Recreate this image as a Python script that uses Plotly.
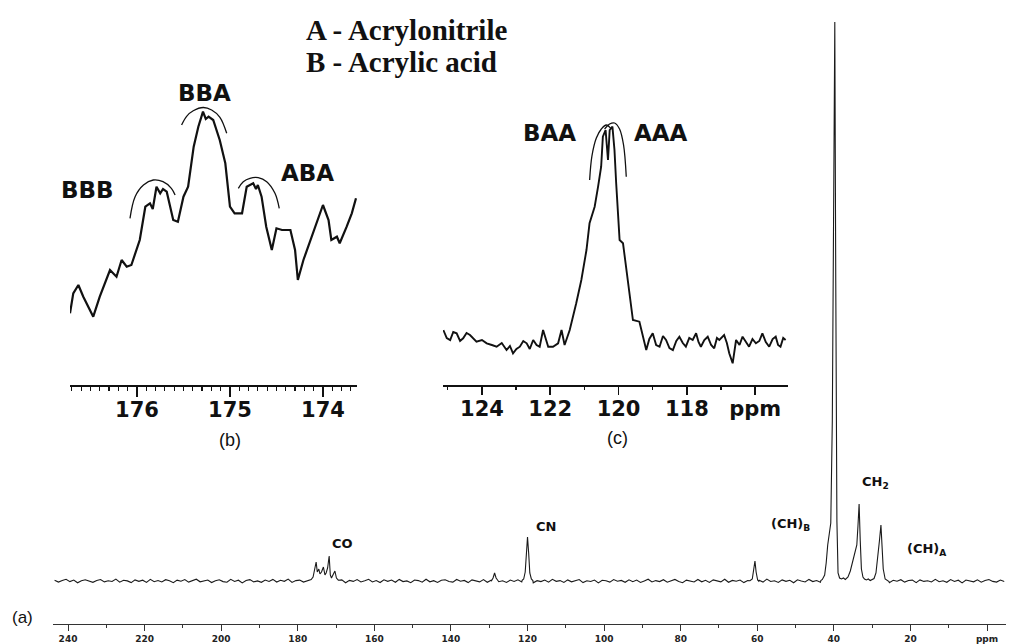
import numpy as np
import plotly.graph_objects as go

W, H = 1013, 644

# ---------------- (a) full 13C spectrum, intensity in a.u. ----------------
# baseline noise on a 1 ppm grid starting at 243.5 ppm
baseline_noise = [
    0.8, -1.1, 0.4, 1.7, -0.6, 0.9, -1.8, 0.3, 1.2, -0.4,
    -1.3, 0.6, 1.5, -0.9, 0.2, -0.5, 1.9, -1.2, 0.7, 0.1,
    -1.6, 1.1, -0.3, 0.8, -1.4, 1.6, -0.7, 0.5, -1.0, 1.3,
    0.2, -1.7, 0.9, -0.2, 1.4, -1.1, 0.6, 1.8, -0.8, -0.1,
    1.0, -1.5, 0.3, 1.2, -0.6, -1.2, 1.7, -0.4, 0.8, -1.9,
    0.5, 1.4, -0.9, 0.1, -1.3, 1.0, -0.5, 1.6, -1.0, 0.7,
    -0.3, 1.9, -1.4, 0.4, 0.9, -1.1, 0.2, -1.6, 1.3, -0.2,
    0.8, -0.7, 1.5, -1.2, 0.3, 1.1, -1.8, 0.6, -0.4, 1.4,
    -1.0, 0.2, 1.7, -0.9, 0.5, -1.5, 1.2, -0.3, 0.9, -1.3,
    1.6, -0.6, 0.1, -1.7, 1.0, 0.4, -1.2, 1.8, -0.8, 0.3,
    -1.4, 0.7, 1.3, -0.5, -1.1, 1.5, -0.2, 0.6, -1.6, 1.1,
    0.0, -0.9, 1.4, -1.3, 0.8, 1.9, -0.7, 0.2, -1.5, 0.9,
    -0.4, 1.2, -1.0, 0.5, 1.6, -1.8, 0.3, -0.6, 1.0, -1.2,
    1.7, -0.3, 0.4, -1.4, 1.1, -0.8, 0.7, 1.5, -1.6, 0.2,
    -0.5, 1.0, -1.9, 0.8, 0.3, -1.1, 1.4, -0.2, 0.6, -1.3,
    1.2, -0.7, 0.9, -1.5, 0.1, 1.8, -1.0, 0.4, -0.6, 1.3,
    -1.2, 0.5, 1.6, -0.4, -1.7, 0.9, 0.2, -1.0, 1.5, -0.8,
    0.7, -1.4, 1.1, 0.3, -0.9, 1.7, -1.3, 0.6, -0.2, 1.0,
    -1.6, 0.4, 1.3, -0.7, 0.8, -1.1, 1.9, -0.5, 0.2, -1.4,
    1.1, -0.3, 0.7, -1.8, 1.2, 0.0, -1.0, 1.6, -0.6, 0.5,
    -1.3, 0.9, 1.4, -0.8, 0.3, -1.5, 1.0, -0.1, 0.8, -1.2,
    1.5, -0.9, 0.4, 1.8, -1.4, 0.6, -0.3, 1.2, -1.7, 0.7,
    -0.2, 1.3, -1.1, 0.5, 0.9, -1.6, 1.1, -0.4, 0.3, -1.0,
    1.7, -0.7, 0.2, -1.3, 1.4, -0.5, 0.8, -1.9, 1.0, 0.1,
    -0.8, 1.2, -1.2, 0.6, 1.5, -0.4, -1.1, 0.9, -0.6,
]
baseline_start_ppm = 243.5

# resonances of the full spectrum (ppm, intensity)
co_ppm = [177.0, 176.5, 176.0, 175.6, 175.2, 174.9, 174.5, 174.2, 173.8, 173.3,
          172.9, 172.6, 172.2, 171.8, 171.5, 171.2, 170.8, 170.3, 169.9, 169.4]
co_int = [0.5, 1.5, 4.0, 12.0, 19.0, 9.0, 12.0, 7.0, 9.0, 14.0,
          6.0, 8.0, 13.0, 25.0, 6.0, 3.0, 6.0, 10.0, 3.0, 0.8]

minor_ppm = [129.4, 129.0, 128.6, 128.2, 127.8]
minor_int = [0.3, 3.0, 8.0, 3.0, 0.5]

cn_ppm = [121.4, 121.0, 120.6, 120.3, 120.0, 119.7, 119.4, 119.0, 118.6]
cn_int = [0.6, 2.0, 9.0, 30.0, 44.0, 28.0, 8.0, 2.0, 0.4]

c61_ppm = [61.9, 61.3, 60.9, 60.6, 60.3, 59.9, 59.6]
c61_int = [0.2, 2.0, 12.0, 20.0, 9.0, 1.0, -0.3]

aliph_ppm = [43.4, 43.0, 42.4, 42.0, 41.6, 41.2, 40.8, 40.4, 40.0, 39.75,
             39.5, 39.2, 38.9, 38.5, 38.0, 37.5, 37.0, 36.3, 35.7, 35.0,
             34.4, 34.0, 33.7, 33.4, 33.1, 32.8, 32.4, 32.0, 31.5, 31.0,
             30.5, 30.0, 29.5, 29.0, 28.5, 28.1, 27.7, 27.4, 27.1, 26.6,
             26.1, 25.6]
aliph_int = [0.4, 1.5, 6.0, 18.0, 36.0, 47.0, 58.0, 160.0, 430.0, 559.0,
             300.0, 60.0, 8.0, 3.0, 2.0, 3.0, 1.5, 4.0, 10.0, 20.0,
             30.0, 36.0, 55.0, 77.0, 40.0, 12.0, 4.0, 2.0, 1.0, 2.0,
             0.5, 1.5, 2.5, 8.0, 24.0, 40.0, 56.0, 25.0, 12.0, 2.0,
             0.8, -0.5]

# ---------------- (b) carbonyl region, expanded ----------------
inset_b_ppm = [176.72, 176.685, 176.63, 176.577, 176.47, 176.40, 176.29, 176.22,
               176.165, 176.11, 176.06, 175.97, 175.91, 175.86, 175.83, 175.79,
               175.75, 175.72, 175.68, 175.61, 175.56, 175.50, 175.45, 175.39,
               175.34, 175.29, 175.26, 175.23, 175.18, 175.11, 175.05, 175.00,
               174.95, 174.87, 174.82, 174.75, 174.72, 174.70, 174.66, 174.61,
               174.55, 174.50, 174.44, 174.35, 174.30, 174.27, 174.21, 174.10,
               174.05, 174.00, 173.94, 173.91, 173.85, 173.82, 173.745, 173.69,
               173.645]
inset_b_int = [71.7, 91.7, 100.0, 88.3, 68.3, 88.3, 115.0, 108.3,
               125.0, 118.3, 120.0, 145.0, 178.3, 181.7, 176.0, 198.3,
               191.7, 196.0, 193.3, 165.0, 163.3, 188.3, 198.3, 238.3,
               258.3, 273.3, 266.0, 268.3, 265.0, 245.0, 221.7, 178.3,
               171.7, 171.7, 198.3, 201.7, 196.0, 200.0, 188.3, 158.3,
               135.0, 156.7, 155.0, 155.0, 135.0, 105.0, 125.0, 155.0,
               168.3, 180.0, 165.0, 145.0, 148.3, 141.7, 158.3, 171.7,
               186.7]

# triad brackets drawn over the expanded carbonyl peaks
bbb_arc_ppm = [176.075, 176.02, 175.93, 175.825, 175.72, 175.63, 175.59]
bbb_arc_int = [166.7, 188.3, 200.0, 205.0, 203.3, 196.7, 190.0]
bba_arc_ppm = [175.52, 175.466, 175.395, 175.287, 175.197, 175.108, 175.035]
bba_arc_int = [260.0, 268.7, 274.2, 277.5, 275.0, 267.7, 251.7]
aba_arc_ppm = [174.91, 174.857, 174.785, 174.696, 174.605, 174.516, 174.47]
aba_arc_int = [196.7, 203.3, 206.7, 207.3, 203.3, 191.7, 176.7]

# ---------------- (c) nitrile region, expanded ----------------
inset_c_ppm = [125.13, 125.03, 124.93, 124.84, 124.74, 124.64, 124.55, 124.45,
               124.35, 124.25, 124.16, 124.0, 123.86, 123.71, 123.57, 123.42,
               123.28, 123.18, 123.09, 122.99, 122.89, 122.79, 122.69, 122.60,
               122.50, 122.40, 122.31, 122.21, 122.06, 121.92, 121.77, 121.67,
               121.58, 121.43, 121.33, 121.24, 121.09, 120.94, 120.85, 120.70,
               120.60, 120.51, 120.46, 120.38, 120.31, 120.26, 120.18, 120.12,
               120.07, 119.97, 119.87, 119.78, 119.68, 119.58, 119.39, 119.29,
               119.19, 119.10, 119.00, 118.90, 118.80, 118.70, 118.61, 118.51,
               118.41, 118.31, 118.22, 118.12, 118.03, 117.93, 117.83, 117.73,
               117.66, 117.59, 117.49, 117.39, 117.29, 117.20, 117.12, 117.05,
               116.91, 116.83, 116.76, 116.66, 116.56, 116.46, 116.37, 116.27,
               116.18, 116.08, 115.98, 115.88, 115.79, 115.69, 115.59, 115.49,
               115.40, 115.33, 115.26, 115.18, 115.11]
inset_c_int = [55.0, 47.0, 45.0, 53.0, 51.7, 44.0, 46.7, 52.0,
               50.0, 47.0, 43.3, 45.0, 41.7, 40.0, 38.3, 42.0,
               35.0, 39.0, 31.7, 36.0, 38.3, 44.0, 41.7, 36.0,
               45.0, 40.0, 38.3, 55.0, 38.3, 38.3, 41.7, 55.0,
               40.0, 55.0, 68.3, 81.7, 105.0, 135.0, 161.7, 178.3,
               198.3, 218.3, 248.3, 255.0, 225.0, 255.0, 258.3, 235.0,
               201.7, 145.0, 141.7, 118.3, 95.0, 65.0, 63.3, 50.0,
               35.0, 46.0, 51.7, 40.0, 38.3, 49.0, 45.0, 37.0,
               35.0, 44.0, 48.3, 42.0, 38.3, 47.0, 45.0, 51.7,
               43.0, 38.3, 45.0, 48.3, 40.0, 36.7, 47.0, 45.0,
               50.0, 42.0, 31.7, 21.7, 45.0, 40.0, 48.3, 43.0,
               38.3, 46.0, 41.7, 44.0, 51.7, 43.0, 38.3, 46.0,
               48.3, 40.0, 38.3, 47.0, 45.0]

baa_arc_ppm = [120.847, 120.78, 120.651, 120.505, 120.359, 120.213]
baa_arc_int = [205.0, 229.0, 247.0, 256.0, 260.0, 256.0]
aaa_arc_ppm = [120.409, 120.263, 120.117, 119.971, 119.854, 119.775]
aaa_arc_int = [256.0, 261.0, 262.0, 256.0, 240.0, 208.3]

# axis ticks
main_ticks = [240, 220, 200, 180, 160, 140, 120, 100, 80, 60, 40, 20, 0]
main_ticktext = ["240", "220", "200", "180", "160", "140", "120", "100", "80",
                 "60", "40", "20", "ppm"]
inset_b_ticks = [176, 175, 174]
inset_c_ticks = [124, 122, 120, 118, 116]
inset_c_ticktext = ["124", "122", "120", "118", "ppm"]

# ---------------- assemble the full spectrum trace ----------------
resonances = [(co_ppm, co_int), (minor_ppm, minor_int), (cn_ppm, cn_int),
              (c61_ppm, c61_int), (aliph_ppm, aliph_int)]
grid_ppm = baseline_start_ppm - np.arange(len(baseline_noise), dtype=float)
keep = np.ones(len(grid_ppm), dtype=bool)
for pp, _ in resonances:
    keep &= ~((grid_ppm <= max(pp)) & (grid_ppm >= min(pp)))
full_ppm = list(grid_ppm[keep])
full_int = list(np.asarray(baseline_noise)[keep])
for pp, ii in resonances:
    full_ppm += pp
    full_int += ii
order = np.argsort(full_ppm)[::-1]
full_ppm = np.asarray(full_ppm)[order]
full_int = np.asarray(full_int)[order]


def px(x, y):
    """pixel position -> paper coordinates"""
    return x / W, 1 - y / H


INK = "#111111"
fig = go.Figure()

fig.add_trace(go.Scatter(x=full_ppm, y=full_int, mode="lines",
                         line=dict(color="#1a1a1a", width=1.1),
                         xaxis="x", yaxis="y", hoverinfo="skip"))
fig.add_trace(go.Scatter(x=inset_b_ppm, y=inset_b_int, mode="lines",
                         line=dict(color=INK, width=2.2),
                         xaxis="x2", yaxis="y2", hoverinfo="skip"))
for ap, ai in [(bbb_arc_ppm, bbb_arc_int), (bba_arc_ppm, bba_arc_int),
               (aba_arc_ppm, aba_arc_int)]:
    fig.add_trace(go.Scatter(x=ap, y=ai, mode="lines", line_shape="spline",
                             line=dict(color=INK, width=1.3),
                             xaxis="x2", yaxis="y2", hoverinfo="skip"))
fig.add_trace(go.Scatter(x=inset_c_ppm, y=inset_c_int, mode="lines",
                         line=dict(color=INK, width=1.9),
                         xaxis="x3", yaxis="y3", hoverinfo="skip"))
for ap, ai in [(baa_arc_ppm, baa_arc_int), (aaa_arc_ppm, aaa_arc_int)]:
    fig.add_trace(go.Scatter(x=ap, y=ai, mode="lines", line_shape="spline",
                             line=dict(color=INK, width=1.3),
                             xaxis="x3", yaxis="y3", hoverinfo="skip"))

axis_common = dict(showgrid=False, zeroline=False, showline=True, ticks="outside",
                   fixedrange=True)
inset_tickfont = dict(family="DejaVu Sans", size=21, color=INK, weight="bold")

fig.update_layout(
    width=W, height=H, margin=dict(l=0, r=0, t=0, b=0),
    paper_bgcolor="white", plot_bgcolor="rgba(0,0,0,0)",
    showlegend=False,
    xaxis=dict(axis_common, domain=[53 / W, 1006 / W], range=[243.92, -4.96],
               anchor="y", tickmode="array", tickvals=main_ticks, ticktext=main_ticktext,
               ticklen=6, tickwidth=1, tickcolor="#333", linecolor="#333", linewidth=1.2,
               tickfont=dict(family="DejaVu Sans", size=9, color="#222", weight="bold"),
               minor=dict(tickmode="linear", tick0=0, dtick=10, ticks="outside",
                          ticklen=3, tickcolor="#333")),
    yaxis=dict(domain=[20 / H, 1], range=[-43, 581], visible=False, anchor="x",
               fixedrange=True),
    xaxis2=dict(axis_common, domain=[70 / W, 357 / W], range=[176.72, 173.634],
                anchor="y2", tickmode="array", tickvals=inset_b_ticks,
                ticklen=10, tickwidth=1.6, tickcolor=INK, linecolor=INK, linewidth=2,
                tickfont=inset_tickfont, ticklabelstandoff=-5,
                minor=dict(tickmode="linear", tick0=0, dtick=0.1, ticks="outside",
                           ticklen=4, tickcolor=INK, tickwidth=1.2)),
    yaxis2=dict(domain=[(H - 385) / H, 1], range=[0, 385], visible=False, anchor="x2",
                fixedrange=True),
    xaxis3=dict(axis_common, domain=[443 / W, 788 / W], range=[125.14, 115.04],
                anchor="y3", tickmode="array", tickvals=inset_c_ticks,
                ticktext=inset_c_ticktext,
                ticklen=8, tickwidth=1.6, tickcolor=INK, linecolor=INK, linewidth=2,
                tickfont=inset_tickfont, ticklabelstandoff=-4,
                minor=dict(tickmode="linear", tick0=1, dtick=2, ticks="outside",
                           ticklen=3, tickcolor=INK, tickwidth=1.2)),
    yaxis3=dict(domain=[(H - 385) / H, 1], range=[0, 385], visible=False, anchor="x3",
                fixedrange=True),
)

annotations = []


def label(text, x, y, xref, yref, size, family="DejaVu Sans", weight="bold",
          xanchor="center"):
    annotations.append(dict(text=text, x=x, y=y, xref=xref, yref=yref,
                            xanchor=xanchor, yanchor="middle", showarrow=False,
                            font=dict(family=family, size=size, color=INK, weight=weight)))


# legend of monomer letters
tx, ty = px(304, 30)
label("A - Acrylonitrile", tx, ty, "paper", "paper", 29, "Liberation Serif", "bold", "left")
tx, ty = px(304, 62)
label("B - Acrylic acid", tx, ty, "paper", "paper", 29, "Liberation Serif", "bold", "left")

# triad labels of the insets
label("BBB", 176.527, 195, "x2", "y2", 23)
label("BBA", 175.27, 292, "x2", "y2", 23)
label("ABA", 174.161, 212, "x2", "y2", 23)
label("BAA", 122.01, 252, "x3", "y3", 23)
label("AAA", 118.75, 252, "x3", "y3", 23)

# assignments of the full spectrum
label("CO", 168.4, 38, "x", "y", 13)
label("CN", 115.2, 55, "x", "y", 13)
label("(CH)<sub>B</sub>", 51.4, 57, "x", "y", 13)
label("CH<sub>2</sub>", 29.0, 99, "x", "y", 13)
label("(CH)<sub>A</sub>", 15.7, 32, "x", "y", 13)

# panel letters
for t, (lx, ly), sz in [("(a)", (22, 617), 17), ("(b)", (230, 440), 18),
                        ("(c)", (617, 438), 18)]:
    ax_, ay_ = px(lx, ly)
    label(t, ax_, ay_, "paper", "paper", sz, "Liberation Sans", "normal")

fig.update_layout(annotations=annotations)

fig.write_html("out.html", config={"displayModeBar": False, "staticPlot": True})
